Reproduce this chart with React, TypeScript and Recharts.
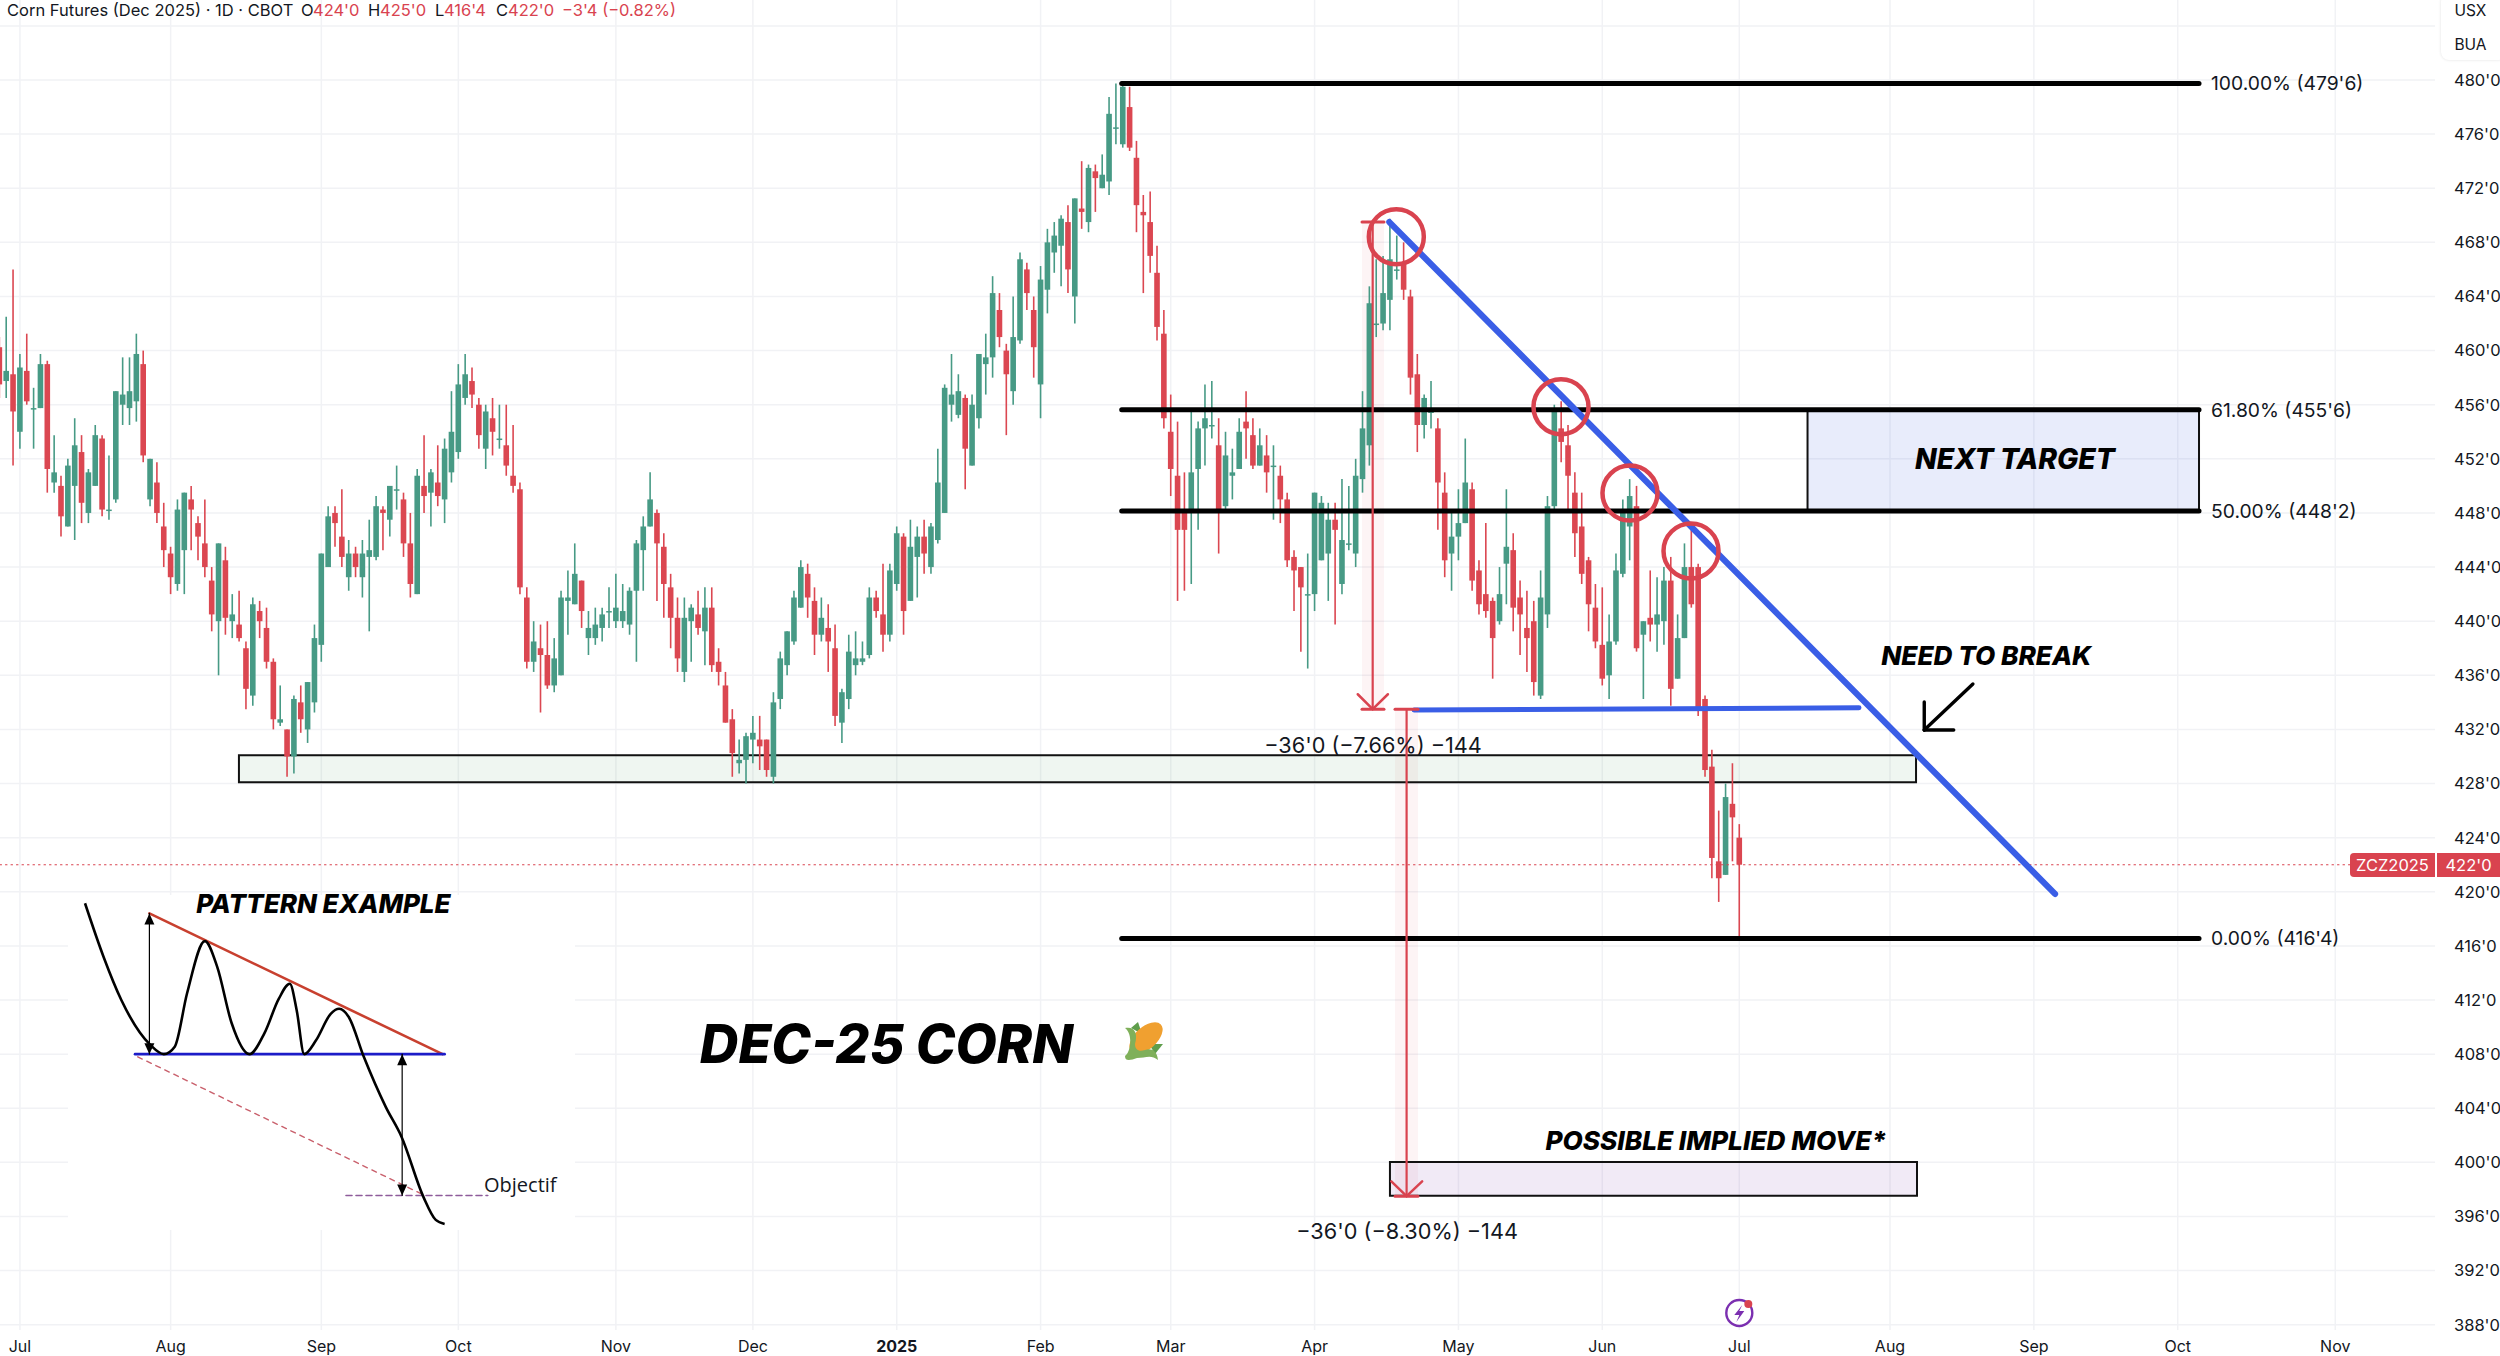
import React from 'react';
import {
  ComposedChart,
  Bar,
  Line,
  XAxis,
  YAxis,
  CartesianGrid,
  ReferenceLine,
  ReferenceArea,
  ReferenceDot,
} from 'recharts';

const highs = [
  461,462.5,466,459.75,461.25,457.25,459.75,459.25,453.75,450.75,
  452,455,453.75,451.25,454.5,453.75,452.25,457,459.5,459.5,
  461.25,460,452,451.75,448.75,445.5,449,449.5,450,447.75,
  449,444,445.75,445.5,442,442.25,438.5,441.75,441.5,441,
  437.25,435.25,432,434.5,435.25,435.5,439.75,445,448.5,448.5,
  449.75,446,445.5,446,447.5,449.25,448.5,450,451.5,449.5,
  448,451.25,453.75,451.25,453,453.5,457,459,459.75,458.75,
  456.5,456,456.5,456,456,454.5,450.25,442.5,440,439.75,
  440,438.75,442.25,443.75,445.75,443,440.75,441,441,442.5,
  443.5,442.75,442.5,446,447.75,451,448.25,446.5,443.5,441.75,
  441.75,441.25,442.25,442.5,442.5,438,436.25,433.5,431.25,431.75,
  433,433,431.25,434.75,437.75,439.25,442.25,444.5,444.25,442.5,
  441.75,441.25,439.75,435,439,439.25,438.5,442.5,442.25,444.25,
  444.25,447,446.5,447.5,447,447.5,447.25,452.75,457.5,459.75,
  458.25,456.75,456.75,459.75,461.25,465.5,464.25,460.5,464,467.25,
  466.5,464,466.25,469,469.5,470,470.75,471.25,474,473.75,
  473.75,474.5,478.75,479.75,479.75,479.5,475.5,471.5,471.75,467.75,
  463,456.75,454.75,451,455.5,454.75,457.5,457.75,455,454,
  452.75,455,457,455,454.25,453.75,453,451.5,449.5,445.25,
  444,445,449.5,449.25,448.75,448.75,450.5,450,452,457,
  464.75,466.75,467,469.75,468.5,468,464.5,459.75,456.75,457.75,
  455,451,448,449.75,453.5,450.25,444.5,447.25,441.75,444,
  449.75,446.5,443,442.25,441.5,443.75,449.25,456,456.25,454.5,
  451,449.5,444.75,442.75,442.5,440.5,445,449,450.5,450,
  440,443.75,443.25,444,444.75,440.5,445.75,446.75,444.25,434.5,
  430.5,426,428,429.5,425,
];

const lows = [
  456.5,456.5,451.5,452.75,456,452.75,455.75,449.5,449.5,446.25,
  447,446,447.25,447.25,450,447.75,447.5,448.75,454.5,454.5,
  454.75,451.75,448.5,447.25,444,442,442.25,442,445.25,444.5,
  443.25,439.25,436,439,438.75,438.5,433.5,433.75,438.75,436.5,
  432,432.25,428.5,428.75,431.75,431,433.25,437,444,445.5,
  444,442.25,443.25,441.75,439.25,444.5,445.25,446.25,448.25,444.75,
  441.75,442,448,447,448.5,447.25,450.25,452,456,455.75,
  452.75,451.25,452.25,452.75,450.75,449.5,442,436.5,436.25,433.25,
  435,434.75,436,439,441.25,439.5,437.5,438.25,438.5,439.5,
  439.5,439.5,439,437,442.25,447,441.5,440.25,438,436.25,
  435.5,437,439,436.75,436.25,435.25,432.5,428.5,428.75,428,
  429.5,429,428.5,428,433.5,436,438.25,441,440.25,437.5,
  438.5,436.25,432.25,431,433.5,436,436.75,437.25,440.25,437.75,
  438.5,442.25,439,441.5,441.75,443.5,443.5,445.75,448,454.75,
  455,449.75,451.5,454.25,456.75,458,460.25,453.75,456,460.5,
  463,458,455,462.75,465.75,464.75,464.25,462,469,468.75,
  470.25,472,471.5,475.25,475,474.75,468.75,464.25,465.75,460.75,
  454.25,449.25,441.5,442.25,442.75,446.75,451.5,453.5,445,448.25,
  449,451.25,452,451.25,451.5,449.5,447.5,447.25,444,440.75,
  437.75,436.5,440.75,444.5,441.5,439.75,442,445.25,444,449.5,
  451.5,461,461.5,461.5,465.25,463.75,456.75,452.5,453.5,454.25,
  446.75,443.25,442.25,444.5,447.25,442.25,440.5,440.25,435.75,439.75,
  441.25,439.25,437.5,436.25,434.5,434.25,439.5,448.25,451.75,448.25,
  444.75,442.75,439.25,438,435.25,434.25,438.25,443.25,444.5,437.75,
  434.25,438.5,437.75,438.25,433.75,435.75,438.75,441,433,428.5,
  421,419.25,421.25,422.25,416.5,
];

const opens = [
  460.25,457.75,458.25,454,458.5,455.75,455.75,459,450.25,450,
  447,450,452.5,448,450,453.5,448.25,449,456,455.75,
  456.25,459,449,450.25,447,445,442.75,445.25,449,447.25,
  445.75,443,440,444.5,440,439.75,438,434.5,440.75,439.5,
  437,432.5,432,430,434,432,434,438.25,444,448,
  446.25,443.25,445,443.25,444.75,444.75,448.25,447.5,449.75,449,
  445.75,442,450,449.5,450.25,449,451,452.5,456.5,457.75,
  456,452.75,455,453.5,453,450.75,449.75,441.75,437,438,
  437.5,435.25,436,441.5,441.25,443,438.75,438.75,439.5,440.75,
  440,440,439.75,442.25,445.25,447,448,445.5,442.5,440.25,
  436.25,440,440.5,439.25,441,437,435.25,432.75,429.5,429.75,
  431.25,431.25,431.25,428.5,434.25,436.75,438.5,441,443.5,441.5,
  439,439.5,438,432.5,434.25,436.75,437,437.5,441.75,440.5,
  439,442.75,446.25,441.5,444.75,446.25,444,446,448,456,
  455.25,456.5,451.5,455,459,459.5,463,460,457,460.75,
  466,463,457.5,464.5,467.25,467.75,469.5,464,470.5,469.5,
  473.25,472,472.5,476.5,475.25,478,474.25,470.25,469.5,465.75,
  461.25,454,450.75,448.25,448.25,451.25,454.25,454.5,453,448.5,
  450.75,451.25,454.75,453.75,451.5,452.25,451.5,450.75,449,444.75,
  444,442,442,444.5,445,447.5,442.75,445.75,445,450.5,
  453,462,462,463.75,466,466.5,464,458.25,454.5,455.5,
  454.25,449.5,445,446.25,447.25,449.75,443.75,442,441.5,440,
  444.25,445.25,441.75,439.5,440,434.5,440.5,448.5,454.25,453,
  449.5,447,444.5,441,438.25,436,438.5,443.5,447,448.5,
  439,440.25,439.75,440,443,435.75,438.75,444,444,434.25,
  429.25,422.25,421.25,426.5,424,
];

const closes = [
  457.5,458.5,455.5,458.75,456.25,455.75,459,451.25,451,447.75,
  451.5,453,448.75,451,453.75,448.25,448.25,457,456.75,457,
  459.75,452.25,452,448,445.25,443.25,448.25,449.5,448.25,446.25,
  444,440.5,445.75,440.25,440.5,438.75,435,441.25,440,437,
  432.75,432.75,430,434.25,432.75,435.5,438.75,445,447.75,447.25,
  444.75,445,444,445,445.25,448.5,448,450,449.75,445.75,
  442.75,450.75,449.25,451,449.25,452.75,454,457.5,458.25,456.75,
  453.75,455.5,454,453.5,451.5,450,442.5,437,438.5,437.5,
  435.25,437.25,441.75,441.75,443.5,440.75,439.5,439.75,440.5,440.75,
  441,440.75,442.25,445.75,447,449,445.75,442.75,440.25,437.25,
  440.25,441,439.5,441,436.75,436.25,432.5,430.25,429.75,431.5,
  431.75,430.75,429,434,437.25,439.25,441.75,444,441.75,439,
  440.25,438.5,433,434.75,437.75,437.25,437.25,441.75,440.75,439,
  443.75,446.5,440.75,445.5,446.25,445,447,450.25,457.25,456.75,
  457,452.75,456,459.75,459.5,464.25,461,458.25,461,466.75,
  464.25,460.25,465.25,468,468.5,469.75,466,471.25,470.25,473.5,
  472.75,473,477.5,476.5,479.5,475,470.75,470,467,461.75,
  455,451.25,446.75,446.75,451,454.25,455,454.5,448.25,452.25,
  451,454,454.25,451.5,453,451,451.5,449,444.5,443.75,
  442.5,442,449.5,448.75,447.5,446.75,446,445.75,450.75,454.25,
  463.5,462,464.25,466.75,466,464.5,458,454.5,456.5,455.5,
  450.25,444.5,446.25,447.25,450.25,443,441.25,440.75,438.75,442,
  445.5,441,440.5,438.75,435.5,441.75,448.5,455.5,453.25,450.75,
  446.5,443.5,441.25,438.5,435.75,438.5,443.75,448,449.25,438,
  440,439.75,440.5,443,435,438.75,444,441.25,433.5,429,
  422.5,421,427,425.5,422,
];

// bar offsets from the last session, month labels on the time scale
const monthTicks = [-251, -229, -207, -187, -164, -144, -123, -102, -83, -62, -41, -20, 0, 22, 43, 64, 87];
const monthLabels = ['Jul', 'Aug', 'Sep', 'Oct', 'Nov', 'Dec', '2025', 'Feb', 'Mar', 'Apr', 'May', 'Jun', 'Jul', 'Aug', 'Sep', 'Oct', 'Nov'];
const priceTicks = [388, 392, 396, 400, 404, 408, 412, 416, 420, 424, 428, 432, 436, 440, 444, 448, 452, 456, 460, 464, 468, 472, 476, 480];
const gridPrices = [...priceTicks, 484];

const fibLevels = [
  { price: 479.75, label: "100.00% (479'6)" },
  { price: 455.62, label: "61.80% (455'6)" },
  { price: 448.15, label: "50.00% (448'2)" },
  { price: 416.55, label: "0.00% (416'4)" },
];

const touchCircles = [
  { bar: -50.07, price: 468.42 },
  { bar: -26.03, price: 455.85 },
  { bar: -15.96, price: 449.47 },
  { bar: -7.05, price: 445.19 },
];

const patternCurve = [
  { bar: -241.5, price: 419.15 }, { bar: -238.8, price: 415.2 }, { bar: -236.2, price: 412 },
  { bar: -232, price: 408.7 }, { bar: -230, price: 408 }, { bar: -228.4, price: 408.55 },
  { bar: -226.6, price: 412.5 }, { bar: -224, price: 416.35 }, { bar: -222.2, price: 414.45 },
  { bar: -220.1, price: 410.3 }, { bar: -217.5, price: 408 }, { bar: -215.3, price: 409.55 },
  { bar: -213.2, price: 412.1 }, { bar: -211.6, price: 413.2 }, { bar: -210.6, price: 411.25 },
  { bar: -209.5, price: 408 }, { bar: -207.8, price: 409 }, { bar: -205.6, price: 411 },
  { bar: -204.4, price: 411.35 }, { bar: -203, price: 410.75 }, { bar: -200.8, price: 407.8 },
  { bar: -197.6, price: 404.1 }, { bar: -195.3, price: 401.9 }, { bar: -192.1, price: 397.45 },
  { bar: -190.3, price: 395.75 }, { bar: -189, price: 395.45 },
];

const UP = '#479a85';
const DOWN = '#db4751';
const MARK = '#d9434f';
const BLUE = '#3a5ee6';
const INK = '#131722';
const SANS = 'Inter, "Noto Sans", sans-serif';

const rows = highs.map((high, i) => ({
  bar: i - (highs.length - 1),
  open: opens[i],
  close: closes[i],
  high,
  low: lows[i],
  range: [lows[i], high],
}));

const Candle = (props: any) => {
  const { x, y, width, height, payload } = props;
  const cx = x + width / 2;
  const span = payload.high - payload.low || 1;
  const at = (v: number) => y + ((payload.high - v) / span) * height;
  const top = at(Math.max(payload.open, payload.close));
  const bot = at(Math.min(payload.open, payload.close));
  const color = payload.close >= payload.open ? UP : DOWN;
  return (
    <g>
      <line x1={cx} x2={cx} y1={y} y2={y + height} stroke={color} strokeWidth={1.6} />
      <rect x={cx - 2.8} width={5.6} y={top} height={Math.max(bot - top, 1.5)} fill={color} />
    </g>
  );
};

const seg = (key: string, x1: number, y1: number, x2: number, y2: number, stroke: string, strokeWidth: number, dash?: string) => (
  <ReferenceLine
    key={key}
    segment={[{ x: x1, y: y1 }, { x: x2, y: y2 }]}
    stroke={stroke}
    strokeWidth={strokeWidth}
    strokeDasharray={dash}
    strokeLinecap="round"
    ifOverflow="visible"
  />
);

const note = (key: string, x: number, y: number, text: string, style: any) => (
  <ReferenceDot
    key={key}
    x={x}
    y={y}
    r={0}
    ifOverflow="visible"
    shape={(p: any) => (
      <text x={p.cx} y={p.cy} dominantBaseline="central" fill={INK} fontFamily={SANS} {...style}>
        {text}
      </text>
    )}
  />
);

const heavy = { fontWeight: 800, fontStyle: 'italic', textAnchor: 'middle', fill: '#000' };

const head = (key: string, x: number, y: number, up: boolean) => (
  <ReferenceDot
    key={key}
    x={x}
    y={y}
    r={0}
    ifOverflow="visible"
    shape={(p: any) => (
      <polygon
        points={
          up
            ? `${p.cx},${p.cy} ${p.cx - 5},${p.cy + 11} ${p.cx + 5},${p.cy + 11}`
            : `${p.cx},${p.cy} ${p.cx - 5},${p.cy - 11} ${p.cx + 5},${p.cy - 11}`
        }
        fill="#000"
      />
    )}
  />
);

const Corn = (p: any) => (
  <g transform={`translate(${p.cx},${p.cy})`}>
    <path d="M-12,-14 L-5,-20 L-1,-8 Z" fill="#5f9e4c" />
    <path d="M12,12 L20,2 L6,2 Z" fill="#5f9e4c" />
    <ellipse cx={3} cy={-4} rx={11} ry={20} transform="rotate(48 3 -4)" fill="#f0a030" />
    <path d="M-18,-14 C-8,-16 -5,-8 -8,2 C-8,8 -4,10 2,8 C8,6 14,8 15,18 C8,12 2,16 -6,16 C-12,18 -18,20 -18,14 C-12,10 -10,-8 -18,-14 Z" fill="#7fb05a" />
  </g>
);

const Bolt = (p: any) => (
  <g>
    <circle cx={p.cx} cy={p.cy} r={13} fill="#fff" stroke="#7b2fb0" strokeWidth={2.4} />
    <path d={`M${p.cx + 3},${p.cy - 8} L${p.cx - 5},${p.cy + 2} L${p.cx},${p.cy + 2} L${p.cx - 3},${p.cy + 9} L${p.cx + 5},${p.cy - 2} L${p.cx},${p.cy - 2} Z`} fill="#7b2fb0" />
    <circle cx={p.cx + 9} cy={p.cy - 9} r={4} fill={MARK} />
  </g>
);

const DateTick = (p: any) => (
  <text
    x={p.x}
    y={1346}
    textAnchor="middle"
    dominantBaseline="central"
    fontFamily={SANS}
    fontSize={16}
    fontWeight={p.payload.value === -123 ? 700 : 400}
    fill={INK}
  >
    {monthLabels[monthTicks.indexOf(p.payload.value)]}
  </text>
);

const headerBits: [number, string, string][] = [
  [7, 'Corn Futures (Dec 2025) · 1D · CBOT', INK],
  [301, 'O', INK], [313, "424'0", MARK],
  [368, 'H', INK], [380, "425'0", MARK],
  [435, 'L', INK], [444, "416'4", MARK],
  [496, 'C', INK], [508, "422'0", MARK],
  [562, "−3'4 (−0.82%)", MARK],
];

export default function App() {
  return (
    <div style={{ position: 'absolute', left: 0, top: 0, width: 2500, height: 1356, overflow: 'hidden', background: '#fff', fontFamily: SANS }}>
      <ComposedChart width={2500} height={1356} data={rows} margin={{ top: 0, right: 0, bottom: 0, left: 0 }}>
        <CartesianGrid stroke="#f1f2f5" strokeWidth={1.5} horizontalValues={gridPrices} verticalValues={monthTicks} />
        <XAxis
          dataKey="bar"
          type="number"
          domain={[-253.91, 101.56]}
          allowDataOverflow
          ticks={monthTicks}
          interval={0}
          height={26}
          axisLine={false}
          tickLine={false}
          tick={<DateTick />}
        />
        <YAxis
          orientation="right"
          type="number"
          domain={[387.61, 485.913]}
          allowDataOverflow
          ticks={priceTicks}
          interval={0}
          width={65}
          axisLine={false}
          tickLine={false}
          tickMargin={13}
          tickFormatter={(v: number) => `${v}'0`}
          tick={{ fill: INK, fontSize: 16.5, fontFamily: SANS }}
        />

        {/* white backdrop of the pasted pattern sketch */}
        <ReferenceArea x1={-243.98} x2={-169.97} y1={395} y2={419.76} fill="#fff" fillOpacity={1} stroke="none" />

        {/* measure tool shading */}
        <ReferenceArea x1={-55.08} x2={-51.87} y1={433.5} y2={469.5} fill={MARK} fillOpacity={0.06} stroke="none" />
        <ReferenceArea x1={-50.26} x2={-46.91} y1={397.5} y2={433.5} fill={MARK} fillOpacity={0.06} stroke="none" />

        <Bar dataKey="range" barSize={5} shape={<Candle />} isAnimationActive={false} />

        {/* zones */}
        <ReferenceArea x1={-219.03} x2={25.8} y1={428.1} y2={430.1} fill="#4c9a60" fillOpacity={0.09} stroke="#111" strokeWidth={2} />
        <ReferenceArea x1={9.96} x2={67.11} y1={448.15} y2={455.62} fill="#3f5fe0" fillOpacity={0.12} stroke="#111" strokeWidth={2} />
        <ReferenceArea x1={-51} x2={25.94} y1={397.54} y2={400.03} fill="#7b3fb0" fillOpacity={0.11} stroke="#111" strokeWidth={2} />

        {seg('last', -253.91, 422, 89.5, 422, MARK, 1.1, '1.5 4')}

        {fibLevels.map((f) => seg(`fib${f.price}`, -90.16, f.price, 67.11, f.price, '#000', 5))}
        {fibLevels.map((f) => note(`fibt${f.price}`, 68.86, f.price, f.label, { fontSize: 19.3 }))}

        {seg('trend', -51.09, 469.5, 46.09, 419.84, BLUE, 6.2)}
        {seg('flat', -47.49, 433.44, 17.47, 433.6, BLUE, 5)}

        {touchCircles.map((c) => (
          <ReferenceDot key={`c${c.bar}`} x={c.bar} y={c.price} r={27.5} fill="none" stroke={MARK} strokeWidth={4.5} ifOverflow="visible" />
        ))}

        {/* first measure */}
        {seg('m1', -53.52, 469.5, -53.52, 433.5, MARK, 2.2)}
        {seg('m1t', -55.08, 469.5, -51.87, 469.5, MARK, 3)}
        {seg('m1a', -55.7, 434.6, -53.52, 433.5, MARK, 2.5)}
        {seg('m1b', -51.3, 434.6, -53.52, 433.5, MARK, 2.5)}
        {seg('m1c', -55.08, 433.5, -51.87, 433.5, MARK, 3)}
        {/* second measure */}
        {seg('m2', -48.57, 433.5, -48.57, 397.5, MARK, 2.2)}
        {seg('m2t', -50.26, 433.5, -46.91, 433.5, MARK, 3)}
        {seg('m2a', -50.8, 398.6, -48.57, 397.5, MARK, 2.5)}
        {seg('m2b', -46.3, 398.6, -48.57, 397.5, MARK, 2.5)}
        {seg('m2c', -50.26, 397.5, -46.91, 397.5, MARK, 3)}
        {note('m1t2', -53.47, 430.85, "−36'0 (−7.66%) −144", { fontSize: 21.7, textAnchor: 'middle' })}
        {note('m2t2', -48.5, 394.9, "−36'0 (−8.30%) −144", { fontSize: 21.7, textAnchor: 'middle' })}

        {/* hand drawn arrow */}
        {seg('na', 34.1, 435.36, 27, 431.96, '#000', 3.4)}
        {seg('nb', 27, 431.96, 27, 434.03, '#000', 3.4)}
        {seg('nc', 27, 431.96, 31.3, 431.96, '#000', 3.4)}

        {note('target', 40.25, 452, 'NEXT TARGET', { ...heavy, fontSize: 28.3 })}
        {note('need', 36.06, 437.5, 'NEED TO BREAK', { ...heavy, fontSize: 26.2 })}
        {note('title', -124.5, 408.8, 'DEC-25 CORN', { ...heavy, fontSize: 53.4 })}
        {note('implied', -3.4, 401.6, 'POSSIBLE IMPLIED MOVE*', { ...heavy, fontSize: 26.2 })}
        {note('pattern', -206.7, 419.17, 'PATTERN EXAMPLE', { ...heavy, fontSize: 26 })}
        {note('obj', -183.25, 398.33, 'Objectif', { fontSize: 20, fontFamily: '"Open Sans", sans-serif' })}

        <ReferenceDot x={-87.05} y={408.9} r={0} ifOverflow="visible" shape={<Corn />} />
        <ReferenceDot x={0} y={388.87} r={0} ifOverflow="visible" shape={<Bolt />} />

        {/* pattern sketch */}
        {seg('pd', -233.8, 407.8, -192.1, 397.6, '#c9606c', 1.4, '5 5')}
        {seg('pp', -203.4, 397.55, -182.7, 397.55, '#8e5c9b', 1.6, '6 4')}
        {seg('pr', -232.1, 418.4, -189.3, 408, '#c8402f', 2.6)}
        {seg('pb', -234.2, 408, -189, 408, '#1c1cc8', 2.6)}
        {seg('pa1', -232.1, 418.4, -232.1, 408, '#000', 1.2)}
        {seg('pa2', -195.2, 408, -195.2, 397.55, '#000', 1.2)}
        {head('h1', -232.1, 418.4, true)}
        {head('h2', -232.1, 408, false)}
        {head('h3', -195.2, 408, true)}
        {head('h4', -195.2, 397.55, false)}
        <Line
          data={patternCurve}
          dataKey="price"
          type="monotone"
          stroke="#000"
          strokeWidth={2.6}
          dot={false}
          activeDot={false}
          isAnimationActive={false}
        />
      </ComposedChart>

      {headerBits.map(([x, t, c]) => (
        <div key={`${x}`} style={{ position: 'absolute', left: x, top: 0, fontSize: 16.5, lineHeight: '20px', color: c, whiteSpace: 'nowrap' }}>
          {t}
        </div>
      ))}

      <div style={{ position: 'absolute', left: 2441, top: -6, width: 65, height: 66, background: '#fff', borderRadius: 8, boxShadow: '0 0 3px rgba(0,0,0,.12)' }} />
      <div style={{ position: 'absolute', left: 2441, top: 1, width: 59, textAlign: 'center', fontSize: 15.5, lineHeight: '20px', color: INK }}>USX</div>
      <div style={{ position: 'absolute', left: 2441, top: 35, width: 59, textAlign: 'center', fontSize: 15.5, lineHeight: '20px', color: INK }}>BUA</div>

      <div style={{ position: 'absolute', left: 2350, top: 853, width: 85, height: 24, background: MARK, borderRadius: '4px 0 0 4px', color: '#fff', fontSize: 16.5, lineHeight: '24px', textAlign: 'center' }}>ZCZ2025</div>
      <div style={{ position: 'absolute', left: 2437, top: 853, width: 63, height: 24, background: MARK, color: '#fff', fontSize: 16.5, lineHeight: '24px', textAlign: 'center' }}>422'0</div>
    </div>
  );
}
